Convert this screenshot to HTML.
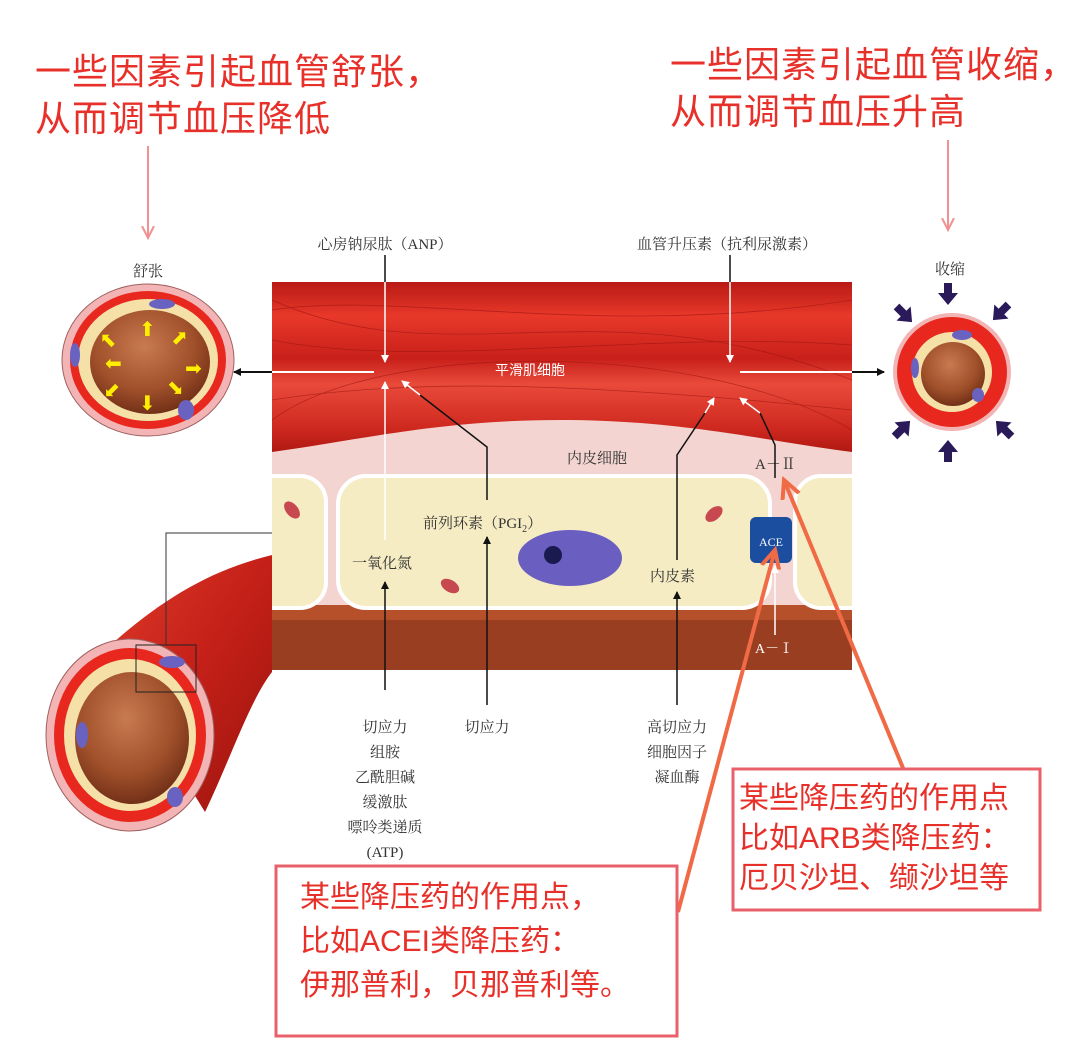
<!DOCTYPE html>
<html><head><meta charset="utf-8"><style>
html,body{margin:0;padding:0;background:#fff;}
svg{display:block}
.t{font-family:"Liberation Serif","Noto Serif CJK SC",serif;fill:#333;font-size:15px}
.r{font-family:"Liberation Sans","Noto Sans CJK SC",sans-serif;fill:#e8302a}
</style></head><body>
<svg width="1080" height="1063" viewBox="0 0 1080 1063" xmlns="http://www.w3.org/2000/svg">
<defs>
<linearGradient id="mus" x1="0" y1="0" x2="0" y2="1">
<stop offset="0" stop-color="#b81a14"/><stop offset="0.2" stop-color="#e8382a"/><stop offset="0.45" stop-color="#c8201a"/><stop offset="0.6" stop-color="#e94a3a"/><stop offset="0.85" stop-color="#d02a20"/><stop offset="1" stop-color="#b01812"/>
</linearGradient>
<radialGradient id="lum" cx="0.45" cy="0.35" r="0.7"><stop offset="0" stop-color="#c87a50"/><stop offset="0.6" stop-color="#a0502a"/><stop offset="1" stop-color="#6a2a14"/></radialGradient>
<linearGradient id="tube" x1="0" y1="0" x2="1" y2="1"><stop offset="0" stop-color="#e03a2a"/><stop offset="0.5" stop-color="#c42018"/><stop offset="1" stop-color="#9a140e"/></linearGradient>
<clipPath id="panel"><rect x="272" y="282" width="580" height="388"/></clipPath>
<marker id="ab" markerWidth="8" markerHeight="8" refX="7" refY="4" orient="auto" markerUnits="userSpaceOnUse"><path d="M0,0 L8,4 L0,8 z" fill="#111"/></marker>
<marker id="aw" markerWidth="8" markerHeight="8" refX="7" refY="4" orient="auto" markerUnits="userSpaceOnUse"><path d="M0,0 L8,4 L0,8 z" fill="#fff"/></marker>
<marker id="ap" markerWidth="14" markerHeight="14" refX="12" refY="7" orient="auto" markerUnits="userSpaceOnUse"><path d="M0,1 L12,7 L0,13" fill="none" stroke="#f09090" stroke-width="2"/></marker>
<marker id="ao" markerWidth="22" markerHeight="22" refX="18" refY="11" orient="auto" markerUnits="userSpaceOnUse"><path d="M0,2 L18,11 L0,20" fill="none" stroke="#f06a45" stroke-width="4"/></marker>
</defs>

<!-- top texts -->
<text class="r" x="35" y="84" font-size="36" letter-spacing="1">一些因素引起血管舒张，</text>
<text class="r" x="35" y="131" font-size="36" letter-spacing="1">从而调节血压降低</text>
<text class="r" x="670" y="77" font-size="36" letter-spacing="1">一些因素引起血管收缩，</text>
<text class="r" x="670" y="124" font-size="36" letter-spacing="1">从而调节血压升高</text>
<line x1="148" y1="146" x2="148" y2="238" stroke="#f09090" stroke-width="2" marker-end="url(#ap)"/>
<line x1="948" y1="140" x2="948" y2="230" stroke="#f09090" stroke-width="2" marker-end="url(#ap)"/>

<!-- tube -->
<path d="M272,555 C210,570 160,600 105,650 L205,812 C230,760 250,700 272,672 Z" fill="url(#tube)"/>
<!-- bottom-left circle -->
<ellipse cx="130" cy="735" rx="84" ry="96" fill="#f2b4b4" stroke="#a06060" stroke-width="1"/>
<ellipse cx="130" cy="735" rx="76" ry="87" fill="#e8281e"/>
<ellipse cx="130" cy="735" rx="66" ry="76" fill="#f5e0a8"/>
<ellipse cx="132" cy="738" rx="57" ry="66" fill="url(#lum)"/>
<ellipse cx="172" cy="662" rx="13" ry="6" fill="#6a62c0"/>
<ellipse cx="82" cy="735" rx="6" ry="13" fill="#6a62c0"/>
<ellipse cx="175" cy="797" rx="8" ry="10" fill="#6a62c0"/>
<rect x="136" y="645" width="60" height="47" fill="none" stroke="#222" stroke-width="1"/>
<polyline points="166,645 166,533 272,533" fill="none" stroke="#333" stroke-width="1"/>

<!-- top-left circle 舒张 -->
<text class="t" x="148" y="276" text-anchor="middle" font-size="14">舒张</text>
<ellipse cx="148" cy="360" rx="86" ry="76" fill="#f2b4b4" stroke="#a06060" stroke-width="1"/>
<ellipse cx="148" cy="360" rx="78" ry="69" fill="#e8281e"/>
<ellipse cx="148" cy="360" rx="70" ry="61" fill="#f5e0a8"/>
<ellipse cx="150" cy="362" rx="60" ry="52" fill="url(#lum)"/>
<ellipse cx="162" cy="304" rx="13" ry="5" fill="#6a62c0"/>
<ellipse cx="75" cy="355" rx="5" ry="12" fill="#6a62c0"/>
<ellipse cx="186" cy="410" rx="8" ry="10" fill="#6a62c0"/>
<g fill="#ffee00" font-family="DejaVu Sans" font-size="20">
<text x="139" y="336">⬆</text><text x="170" y="346" transform="rotate(45 180 340)">⬆</text>
<text x="185" y="375">➡</text><text x="105" y="370">⬅</text>
<text x="139" y="410">⬇</text><text x="100" y="346" transform="rotate(-45 110 340)">⬆</text>
<text x="100" y="398" transform="rotate(-135 110 390)">⬆</text><text x="165" y="398" transform="rotate(135 175 390)">⬆</text>
</g>

<!-- right circle 收缩 -->
<text class="t" x="950" y="274" text-anchor="middle" font-size="14">收缩</text>
<circle cx="952" cy="372" r="59" fill="#f2b4b4"/>
<circle cx="952" cy="372" r="55" fill="#e8281e"/>
<circle cx="952" cy="372" r="40" fill="#f5e0a8"/>
<circle cx="953" cy="374" r="32" fill="url(#lum)"/>
<ellipse cx="962" cy="335" rx="10" ry="5" fill="#6a62c0"/>
<ellipse cx="915" cy="368" rx="4" ry="10" fill="#6a62c0"/>
<ellipse cx="978" cy="395" rx="6" ry="7" fill="#6a62c0"/>
<g fill="#2a1a5a">
<path d="M944,283 h8 v10 h6 l-10,12 l-10,-12 h6z"/>
<path d="M944,462 h8 v-10 h6 l-10,-12 l-10,12 h6z"/>
<g transform="rotate(-45 905 315)"><path d="M901,303 h8 v10 h6 l-10,12 l-10,-12 h6z"/></g>
<g transform="rotate(45 1000 313)"><path d="M996,301 h8 v10 h6 l-10,12 l-10,-12 h6z"/></g>
<g transform="rotate(-135 903 428)"><path d="M899,416 h8 v10 h6 l-10,12 l-10,-12 h6z"/></g>
<g transform="rotate(135 1003 428)"><path d="M999,416 h8 v10 h6 l-10,12 l-10,-12 h6z"/></g>
</g>

<!-- main panel -->
<g clip-path="url(#panel)">
<rect x="272" y="282" width="580" height="388" fill="#f3d4d0"/>
<path d="M272,282 H852 V452 C760,440 680,420 560,420 C440,420 360,440 272,452 Z" fill="url(#mus)"/>
<g stroke="#9a1410" stroke-width="0.8" fill="none" opacity="0.6">
<path d="M272,310 C400,290 600,340 852,300"/><path d="M272,340 C420,370 650,330 852,345"/>
<path d="M272,400 C400,380 560,380 852,410"/><path d="M272,300 C450,380 600,280 852,380"/>
<path d="M272,420 C380,340 700,340 852,430"/>
</g>
<rect x="272" y="605" width="580" height="65" fill="#b5502a"/>
<rect x="272" y="620" width="580" height="50" fill="#9a3e22"/>
<rect x="338" y="476" width="432" height="132" rx="28" fill="#f6ecc4" stroke="#fff" stroke-width="4"/>
<rect x="248" y="476" width="78" height="132" rx="26" fill="#f6ecc4" stroke="#fff" stroke-width="4"/>
<rect x="795" y="476" width="90" height="132" rx="26" fill="#f6ecc4" stroke="#fff" stroke-width="4"/>
</g>
<ellipse cx="570" cy="558" rx="52" ry="28" fill="#6a5ec0"/>
<circle cx="553" cy="555" r="9" fill="#1a1a50"/>
<ellipse cx="450" cy="586" rx="10" ry="6" fill="#c84850" transform="rotate(30 450 586)"/>
<ellipse cx="714" cy="514" rx="10" ry="6" fill="#c84850" transform="rotate(-40 714 514)"/>
<ellipse cx="292" cy="510" rx="10" ry="6" fill="#c84850" transform="rotate(50 292 510)"/>
<rect x="750" y="517" width="42" height="46" rx="6" fill="#1c4ea0"/>
<text x="771" y="546" text-anchor="middle" font-size="12" fill="#fff" font-family="Liberation Serif,serif">ACE</text>
<text x="530" y="375" text-anchor="middle" font-size="14" fill="#fff" font-family="Liberation Sans,Noto Sans CJK SC,sans-serif">平滑肌细胞</text>
<text class="t" x="567" y="463">内皮细胞</text>
<text class="t" x="755" y="469" font-size="14">A－Ⅱ</text>
<text x="755" y="653" font-size="14" fill="#fff" font-family="Liberation Serif,Noto Serif CJK SC,serif">A－Ⅰ</text>
<text class="t" x="352" y="568">一氧化氮</text>
<text class="t" x="423" y="528">前列环素（PGI<tspan font-size="10" dy="4">2</tspan><tspan dy="-4">）</tspan></text>
<text class="t" x="650" y="581">内皮素</text>

<!-- connectors -->
<g stroke-width="1.5" fill="none">
<line x1="385" y1="255" x2="385" y2="282" stroke="#111"/>
<line x1="385" y1="282" x2="385" y2="362" stroke="#fff" marker-end="url(#aw)"/>
<line x1="730" y1="255" x2="730" y2="282" stroke="#111"/>
<line x1="730" y1="282" x2="730" y2="362" stroke="#fff" marker-end="url(#aw)"/>
<line x1="272" y1="372" x2="374" y2="372" stroke="#fff" stroke-width="2"/>
<line x1="272" y1="372" x2="234" y2="372" stroke="#111" stroke-width="2" marker-end="url(#ab)"/>
<line x1="740" y1="372" x2="852" y2="372" stroke="#fff" stroke-width="2"/>
<line x1="852" y1="372" x2="884" y2="372" stroke="#111" stroke-width="2" marker-end="url(#ab)"/>
<line x1="385" y1="540" x2="385" y2="382" stroke="#fff" marker-end="url(#aw)"/>
<line x1="385" y1="690" x2="385" y2="670" stroke="#111"/>
<line x1="385" y1="670" x2="385" y2="582" stroke="#111" marker-end="url(#ab)"/>
<line x1="487" y1="705" x2="487" y2="537" stroke="#111" marker-end="url(#ab)"/>
<polyline points="487,500 487,447 420,395" stroke="#111"/>
<line x1="420" y1="395" x2="402" y2="381" stroke="#fff" marker-end="url(#aw)"/>
<line x1="677" y1="705" x2="677" y2="592" stroke="#111" marker-end="url(#ab)"/>
<polyline points="677,560 677,455 705,413" stroke="#111"/>
<line x1="705" y1="413" x2="714" y2="398" stroke="#fff" marker-end="url(#aw)"/>
<polyline points="775,478 775,445 760,413" stroke="#111"/>
<line x1="760" y1="413" x2="740" y2="398" stroke="#fff" marker-end="url(#aw)"/>
<line x1="775" y1="635" x2="775" y2="566" stroke="#fff" marker-end="url(#aw)"/>
</g>
<text class="t" x="385" y="249" text-anchor="middle" font-size="14">心房钠尿肽（ANP）</text>
<text class="t" x="727" y="249" text-anchor="middle" font-size="14">血管升压素（抗利尿激素）</text>
<g text-anchor="middle">
<text x="385" y="732" class="t">切应力</text><text x="385" y="757" class="t">组胺</text><text x="385" y="782" class="t">乙酰胆碱</text>
<text x="385" y="807" class="t">缓激肽</text><text x="385" y="832" class="t">嘌呤类递质</text><text x="385" y="857" class="t">(ATP)</text>
<text x="487" y="732" class="t">切应力</text>
<text x="677" y="732" class="t">高切应力</text><text x="677" y="757" class="t">细胞因子</text><text x="677" y="782" class="t">凝血酶</text>
</g>

<!-- orange pointers -->
<line x1="678" y1="912" x2="775" y2="550" stroke="#f06a45" stroke-width="4" marker-end="url(#ao)"/>
<line x1="903" y1="768" x2="784" y2="480" stroke="#f06a45" stroke-width="4" marker-end="url(#ao)"/>

<!-- callout boxes -->
<rect x="276" y="866" width="401" height="170" fill="#fff" stroke="#e8606a" stroke-width="3"/>
<text class="r" x="300" y="907" font-size="30">某些降压药的作用点，</text>
<text class="r" x="300" y="951" font-size="30">比如ACEI类降压药：</text>
<text class="r" x="300" y="995" font-size="30">伊那普利，贝那普利等。</text>
<rect x="733" y="769" width="307" height="141" fill="#fff" stroke="#e8606a" stroke-width="3"/>
<text class="r" x="739" y="808" font-size="30">某些降压药的作用点</text>
<text class="r" x="739" y="848" font-size="30">比如ARB类降压药：</text>
<text class="r" x="739" y="888" font-size="30">厄贝沙坦、缬沙坦等</text>
</svg>
</body></html>
